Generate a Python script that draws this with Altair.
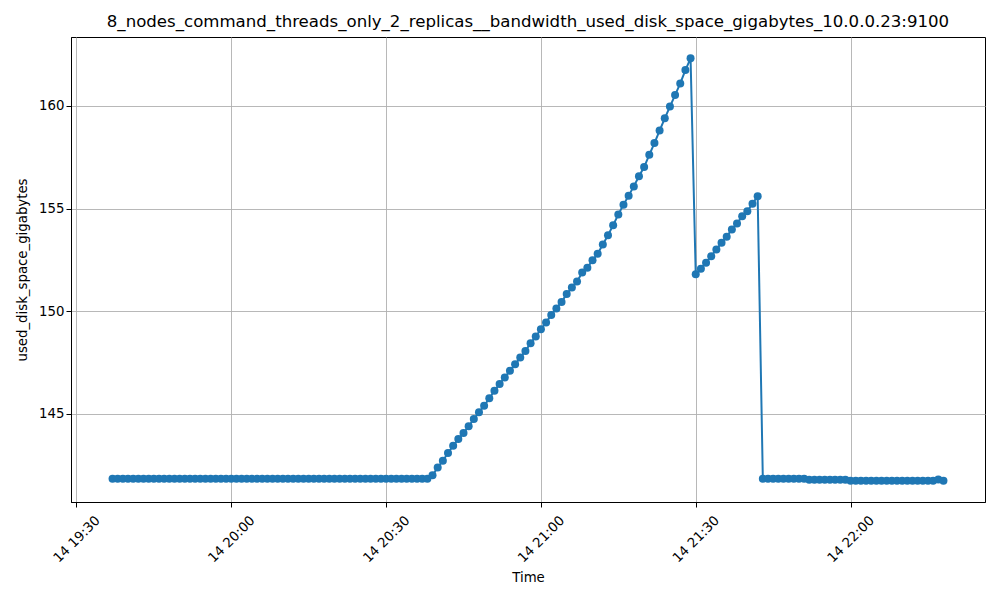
import altair as alt
import pandas as pd

START = "2024-01-14 19:37"

# 19:37 .. 20:38 flat (62 samples)
flat_start = [141.83] * 62
# 20:39 .. 21:29 growth (51 samples)
rise = [142.00, 142.38, 142.71, 143.09, 143.44, 143.77, 144.06, 144.39, 144.74, 145.07,
        145.39, 145.75, 146.12, 146.45, 146.77, 147.09, 147.41, 147.74, 148.06, 148.44,
        148.76, 149.12, 149.45, 149.81, 150.13, 150.45, 150.83, 151.15, 151.44, 151.88,
        152.12, 152.48, 152.80, 153.25, 153.70, 154.19, 154.71, 155.19, 155.63, 156.08,
        156.57, 157.02, 157.62, 158.19, 158.80, 159.40, 159.97, 160.53, 161.10, 161.75,
        162.32]
# 21:30 .. 21:42 (13 samples)
second_rise = [151.80, 152.07, 152.36, 152.68, 153.01, 153.33, 153.63, 153.98, 154.27,
               154.63, 154.87, 155.24, 155.60]
# 21:43 .. 22:18 (36 samples)
tail = ([141.83] * 9 + [141.78] * 8 + [141.74] * 17 + [141.80, 141.74])

values = flat_start + rise + second_rise + tail
times = [t.strftime("%Y-%m-%dT%H:%M:%S")
         for t in pd.date_range(START, periods=len(values), freq="1min")]

df = pd.DataFrame({"Time": times, "value": values})

TITLE = "8_nodes_command_threads_only_2_replicas__bandwidth_used_disk_space_gigabytes_10.0.0.23:9100"
Y_TICKS = [145, 150, 155, 160]
X_TICKS = [(19, 30), (20, 0), (20, 30), (21, 0), (21, 30), (22, 0)]
FONT = "DejaVu Sans"
BLUE = "#1f77b4"


def dt(h, m, s=0):
    return alt.DateTime(year=2024, month=1, date=14, hours=h, minutes=m, seconds=s)


x_enc = alt.X(
    "Time:T",
    scale=alt.Scale(domain=[dt(19, 28, 57), dt(22, 26, 3)], nice=False),
    axis=alt.Axis(
        format="%d %H:%M",
        values=[dt(h, m) for h, m in X_TICKS],
        labelAngle=-45,
        labelAlign="center",
        labelBaseline="middle",
        labelPadding=32,
        labelFlush=False,
        labelOverlap=False,
        title="Time",
        titleY=75,
        titleBaseline="middle",
    ),
)
y_enc = alt.Y(
    "value:Q",
    scale=alt.Scale(domain=[140.70, 163.36], nice=False, zero=False),
    axis=alt.Axis(values=Y_TICKS, title="used_disk_space_gigabytes", titleX=-49,
                  titleBaseline="middle"),
)

base = alt.Chart(df)
line = base.mark_line(color=BLUE, strokeWidth=2).encode(x=x_enc, y=y_enc)
pts = base.mark_point(filled=True, color=BLUE, size=64, opacity=1).encode(x=x_enc, y=y_enc)

chart = (
    alt.layer(line, pts)
    .properties(
        width=914,
        height=465,
        padding={"left": 63, "top": 29, "right": 7, "bottom": 100},
        autosize=alt.AutoSizeParams(type="none"),
        title=alt.TitleParams(TITLE, fontSize=16.6, font=FONT, fontWeight="normal",
                              anchor="middle", baseline="bottom", offset=-10, color="black"),
    )
    .configure_view(stroke="black", strokeWidth=1)
    .configure_axis(
        labelFont=FONT, titleFont=FONT, labelFontSize=13.3, titleFontSize=13.3,
        labelColor="black", titleColor="black", titleFontWeight="normal",
        grid=True, gridColor="#b0b0b0", gridWidth=0.9,
        domainColor="black", tickColor="black", tickSize=5, tickWidth=1,
    )
)

chart.save("out.html", embed_options={"renderer": "svg", "actions": False})
